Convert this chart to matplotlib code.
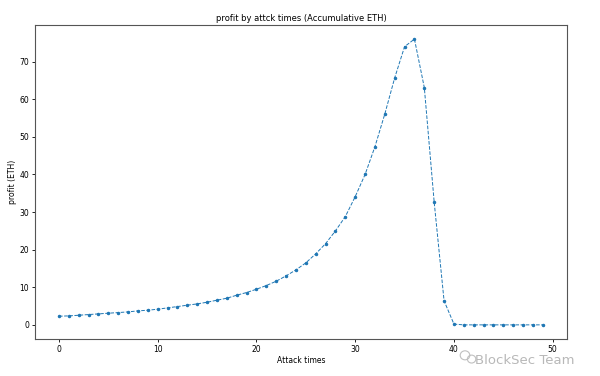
import matplotlib
matplotlib.use('Agg')
import matplotlib.pyplot as plt
from matplotlib.patches import Ellipse

# attack index and accumulative profit (ETH)
attack_times = list(range(50))
profit = [2.30, 2.39, 2.56, 2.74, 2.92, 3.10, 3.27, 3.45, 3.72, 3.90,
          4.16, 4.52, 4.87, 5.23, 5.58, 6.02, 6.56, 7.09, 7.89, 8.60,
          9.48, 10.46, 11.61, 13.03, 14.63, 16.49, 18.89, 21.6, 25.0, 28.8,
          34.1, 40.0, 47.4, 56.1, 65.7, 74.0, 76.0, 63.1, 32.6, 6.4,
          0.2, 0.0, 0.0, 0.0, 0.0, 0.0, 0.0, 0.0, 0.0, 0.0]

fig = plt.figure(figsize=(6, 3.76), dpi=100)
ax = fig.add_axes([0.058, 0.098, 0.887, 0.836])
ax.plot(attack_times, profit, '--', marker='.', color='#1f77b4',
        linewidth=0.7, markersize=3)

ax.set_title('profit by attck times (Accumulative ETH)', fontsize=6, pad=3)
ax.set_xlabel('Attack times', fontsize=5.5, labelpad=2)
ax.set_ylabel('profit (ETH)', fontsize=5.5, labelpad=2)
ax.set_xticks([0, 10, 20, 30, 40, 50])
ax.set_yticks([0, 10, 20, 30, 40, 50, 60, 70])
ax.tick_params(labelsize=5.5, length=2, width=0.6, pad=2)
for s in ax.spines.values():
    s.set_linewidth(0.8)
    s.set_color('#555555')

# watermark (wechat-like icon + text)
fig.patches.append(Ellipse((0.775, 0.055), 0.016, 0.024, transform=fig.transFigure,
                           fill=False, edgecolor='#c0c0c0', linewidth=0.8))
fig.patches.append(Ellipse((0.786, 0.045), 0.014, 0.021, transform=fig.transFigure,
                           fill=False, edgecolor='#c0c0c0', linewidth=0.8))
fig.text(0.792, 0.040, 'BlockSec Team', fontsize=9.5, color='#b8b8b8',
         ha='left', va='center')

fig.savefig('out.png', dpi=100)
